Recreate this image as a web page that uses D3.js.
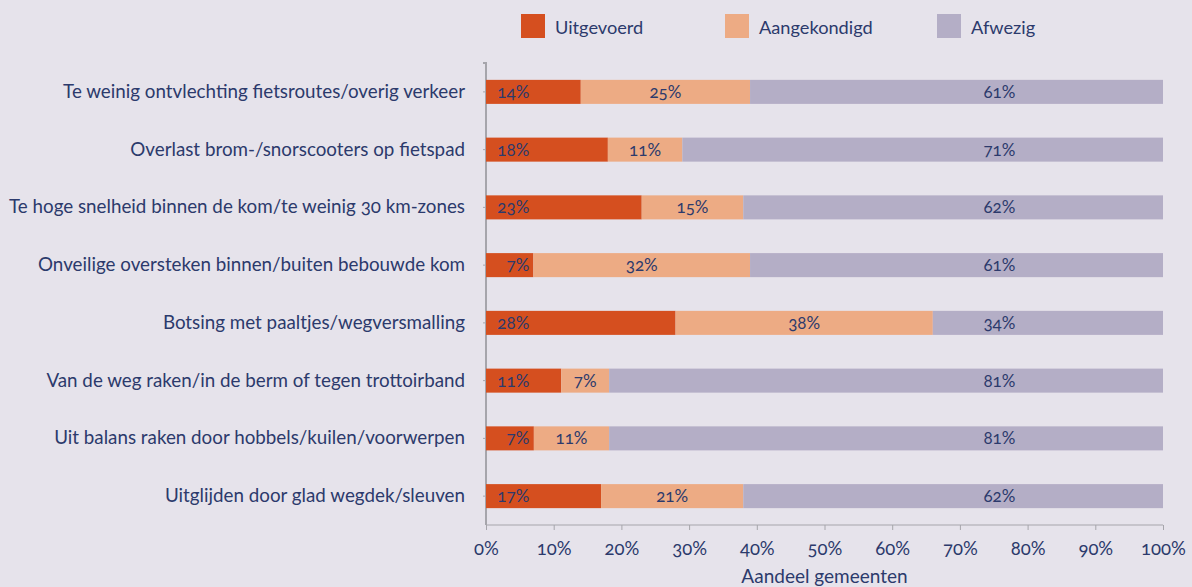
<!DOCTYPE html>
<html>
<head>
<meta charset="utf-8">
<script src="https://cdn.jsdelivr.net/npm/d3@7"></script>
<style>
  body { margin: 0; background: #e6e3eb; }
  svg text { font-family: Lato, "Open Sans", sans-serif; fill: #2c3a6c; font-variant-numeric: oldstyle-nums; }
</style>
</head>
<body>
<svg id="chart" width="1192" height="587"></svg>
<script>
// categories (top to bottom)
var categories = [
  "Te weinig ontvlechting fietsroutes/overig verkeer",
  "Overlast brom-/snorscooters op fietspad",
  "Te hoge snelheid binnen de kom/te weinig 30 km-zones",
  "Onveilige oversteken binnen/buiten bebouwde kom",
  "Botsing met paaltjes/wegversmalling",
  "Van de weg raken/in de berm of tegen trottoirband",
  "Uit balans raken door hobbels/kuilen/voorwerpen",
  "Uitglijden door glad wegdek/sleuven"
];
// series values (percent)
var uitgevoerd   = [14, 18, 23, 7, 28, 11, 7, 17];
var aangekondigd = [25, 11, 15, 32, 38, 7, 11, 21];
var afwezig      = [61, 71, 62, 61, 34, 81, 81, 62];

var seriesNames = ["Uitgevoerd", "Aangekondigd", "Afwezig"];
var colors = ["#d54f1f", "#edab84", "#b4aec6"];
var xTicks = [0, 0.1, 0.2, 0.3, 0.4, 0.5, 0.6, 0.7, 0.8, 0.9, 1];

var svg = d3.select("#chart");
var x = d3.scaleLinear().domain([0, 1]).range([486, 1163]);
var y = d3.scaleBand().domain(categories).range([63, 525]).paddingInner(0.584).paddingOuter(0.292);

// stacked data, each bar scaled to 100% (rounded values don't always add up)
var rows = categories.map(function(c, i) {
  return {cat: c, Uitgevoerd: uitgevoerd[i], Aangekondigd: aangekondigd[i], Afwezig: afwezig[i]};
});
var stack = d3.stack().keys(seriesNames).offset(d3.stackOffsetExpand)(rows);

// axes
var axisColor = "#a6a5ab";
var xAxis = svg.append("g").attr("transform", "translate(0,525)")
  .call(d3.axisBottom(x).tickValues(xTicks).tickSize(5).tickPadding(12).tickFormat(d3.format(".0%")));
xAxis.selectAll("line, path").attr("stroke", axisColor);
xAxis.select(".domain").attr("d", "M486,0H1163");
xAxis.selectAll("text").style("font-size", "18.5px").attr("fill", null);

var yAxis = svg.append("g").attr("transform", "translate(486,0)")
  .call(d3.axisLeft(y).tickSize(3).tickPadding(18));
yAxis.select(".domain").attr("stroke", axisColor).attr("stroke-width", 2).attr("d", "M-3,63H0V525");
yAxis.selectAll("line").attr("stroke", axisColor);
yAxis.selectAll("text").style("font-size", "18.8px").attr("fill", null);

// bars
var layers = svg.append("g").selectAll("g").data(stack).join("g")
  .attr("fill", (d, i) => colors[i]);
layers.selectAll("rect").data(d => d).join("rect")
  .attr("x", d => x(d[0]))
  .attr("width", d => x(d[1]) - x(d[0]))
  .attr("y", d => y(d.data.cat))
  .attr("height", y.bandwidth());

// value labels
var labels = svg.append("g").style("font-size", "17px");
stack.forEach(function(layer, k) {
  labels.selectAll(null).data(layer).join("text")
    .attr("x", d => k == 0 ? x(0.064) : k == 1 ? x((d[0] + d[1]) / 2) : x(0.782))
    .attr("y", d => y(d.data.cat) + y.bandwidth() / 2 + 6)
    .attr("text-anchor", k == 1 ? "middle" : "end")
    .text(d => d.data[layer.key] + "%");
});

// x axis title
svg.append("text").attr("x", x(0.5)).attr("y", 583).attr("text-anchor", "middle")
  .style("font-size", "19px").text("Aandeel gemeenten");

// legend
var legendX = [521, 725, 937];
var legend = svg.append("g").selectAll("g").data(seriesNames).join("g")
  .attr("transform", (d, i) => "translate(" + legendX[i] + ",14)");
legend.append("rect").attr("width", 24).attr("height", 24).attr("fill", (d, i) => colors[i]);
legend.append("text").attr("x", 34).attr("y", 20).style("font-size", "18.2px").text(d => d);
</script>
</body>
</html>
